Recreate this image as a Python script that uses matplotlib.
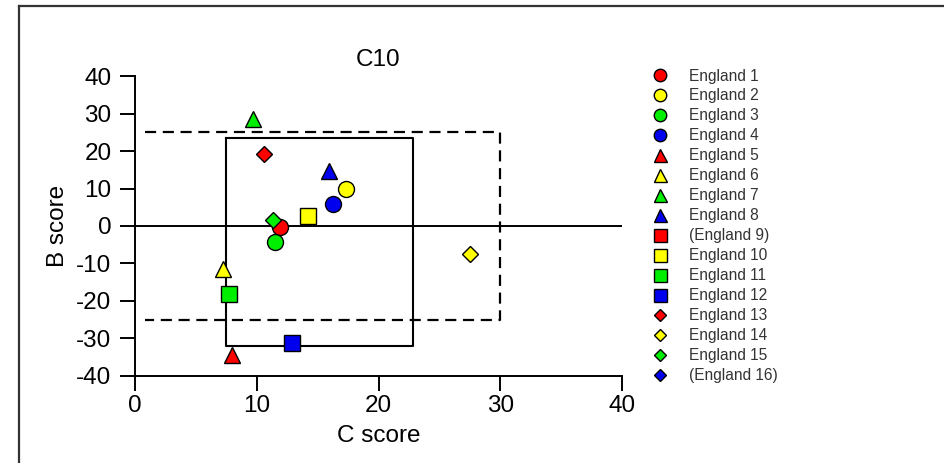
import matplotlib
matplotlib.use("Agg")
import matplotlib.pyplot as plt
from matplotlib.lines import Line2D
import numpy as np

plt.rcParams['font.family'] = ['Liberation Sans', 'DejaVu Sans']
plt.rcParams['axes.unicode_minus'] = False

# Data: C score (x) and B score (y) for each site; None = not plotted
labels = ["England 1", "England 2", "England 3", "England 4",
          "England 5", "England 6", "England 7", "England 8",
          "(England 9)", "England 10", "England 11", "England 12",
          "England 13", "England 14", "England 15", "(England 16)"]
c_score = [11.9, 17.3, 11.5, 16.3,
           8.0, 7.2, 9.7, 15.9,
           None, 14.2, 7.7, 12.9,
           10.6, 27.5, 11.3, None]
b_score = [-0.3, 10.0, -4.3, 6.0,
           -34.5, -11.6, 28.6, 14.8,
           None, 2.6, -18.1, -31.4,
           19.2, -7.4, 1.7, None]
colors = ["#ff0000", "#ffff00", "#00ee00", "#0000ee"] * 4
markers = ["o"] * 4 + ["^"] * 4 + ["s"] * 4 + ["D"] * 4

# Reference regions
solid_box_c = [7.5, 22.8, 22.8, 7.5, 7.5]
solid_box_b = [23.4, 23.4, -32.1, -32.1, 23.4]
dashed_box_c = [0.8, 30, 30, 0.8]
dashed_box_b = [25, 25, -25, -25]

x_ticks = [0, 10, 20, 30, 40]
y_ticks = [-40, -30, -20, -10, 0, 10, 20, 30, 40]

marker_size = {"o": 11.5, "^": 12.0, "s": 12.0, "D": 8.4}

W, H = 945, 463
fig = plt.figure(figsize=(W / 100, H / 100), dpi=100)
ax = fig.add_axes([135 / W, 1 - 375.6 / H, 487 / W, 299.2 / H])

lw = 1.4
ax.plot([0, 40], [0, 0], color="black", lw=lw, zorder=1)
ax.plot(solid_box_c, solid_box_b, color="black", lw=1.5, zorder=1)
ax.plot(dashed_box_c, dashed_box_b, color="black", lw=1.6,
        linestyle=(0, (5, 3)), zorder=1)

for lab, c, b, col, m in zip(labels, c_score, b_score, colors, markers):
    xs = [c] if c is not None else [np.nan]
    ys = [b] if b is not None else [np.nan]
    ax.plot(xs, ys, linestyle="none", marker=m, markersize=marker_size[m],
            markerfacecolor=col, markeredgecolor="black", markeredgewidth=1.0,
            label=lab, zorder=3, clip_on=False)

ax.set_xlim(0, 40)
ax.set_ylim(-40, 40)
ax.set_xticks(x_ticks)
ax.set_yticks(y_ticks)
for s in ("top", "right"):
    ax.spines[s].set_visible(False)
for s in ("left", "bottom"):
    ax.spines[s].set_linewidth(lw)
ax.tick_params(axis="both", direction="out", length=11, width=lw,
               labelsize=17.5, colors="black")
ax.tick_params(axis="y", pad=6)
ax.tick_params(axis="x", pad=3)

ax.set_title("C10", fontsize=17.5, pad=7.5)
ax.set_xlabel("C score", fontsize=17.5)
ax.set_ylabel("B score", fontsize=17.5)
ax.xaxis.set_label_coords(0.5, -0.165)
ax.yaxis.set_label_coords(-0.135, 0.5)

leg = ax.legend(loc="upper left", bbox_to_anchor=(648 / W, 1 - 68.5 / H),
                bbox_transform=fig.transFigure, frameon=False,
                fontsize=11.2, markerscale=0.78, handlelength=1.5,
                handletextpad=1.15, labelspacing=0.32, borderpad=0,
                borderaxespad=0, numpoints=1)
for t in leg.get_texts():
    t.set_color("#333333")

# Outer frame (left and top edges)
fig.add_artist(Line2D([18.5 / W, 18.5 / W], [0, 1 - 6 / H],
                      transform=fig.transFigure, color="#333333", lw=1.6))
fig.add_artist(Line2D([18.5 / W, 1], [1 - 6 / H, 1 - 6 / H],
                      transform=fig.transFigure, color="#333333", lw=1.6))

fig.savefig("out.png", dpi=100)
